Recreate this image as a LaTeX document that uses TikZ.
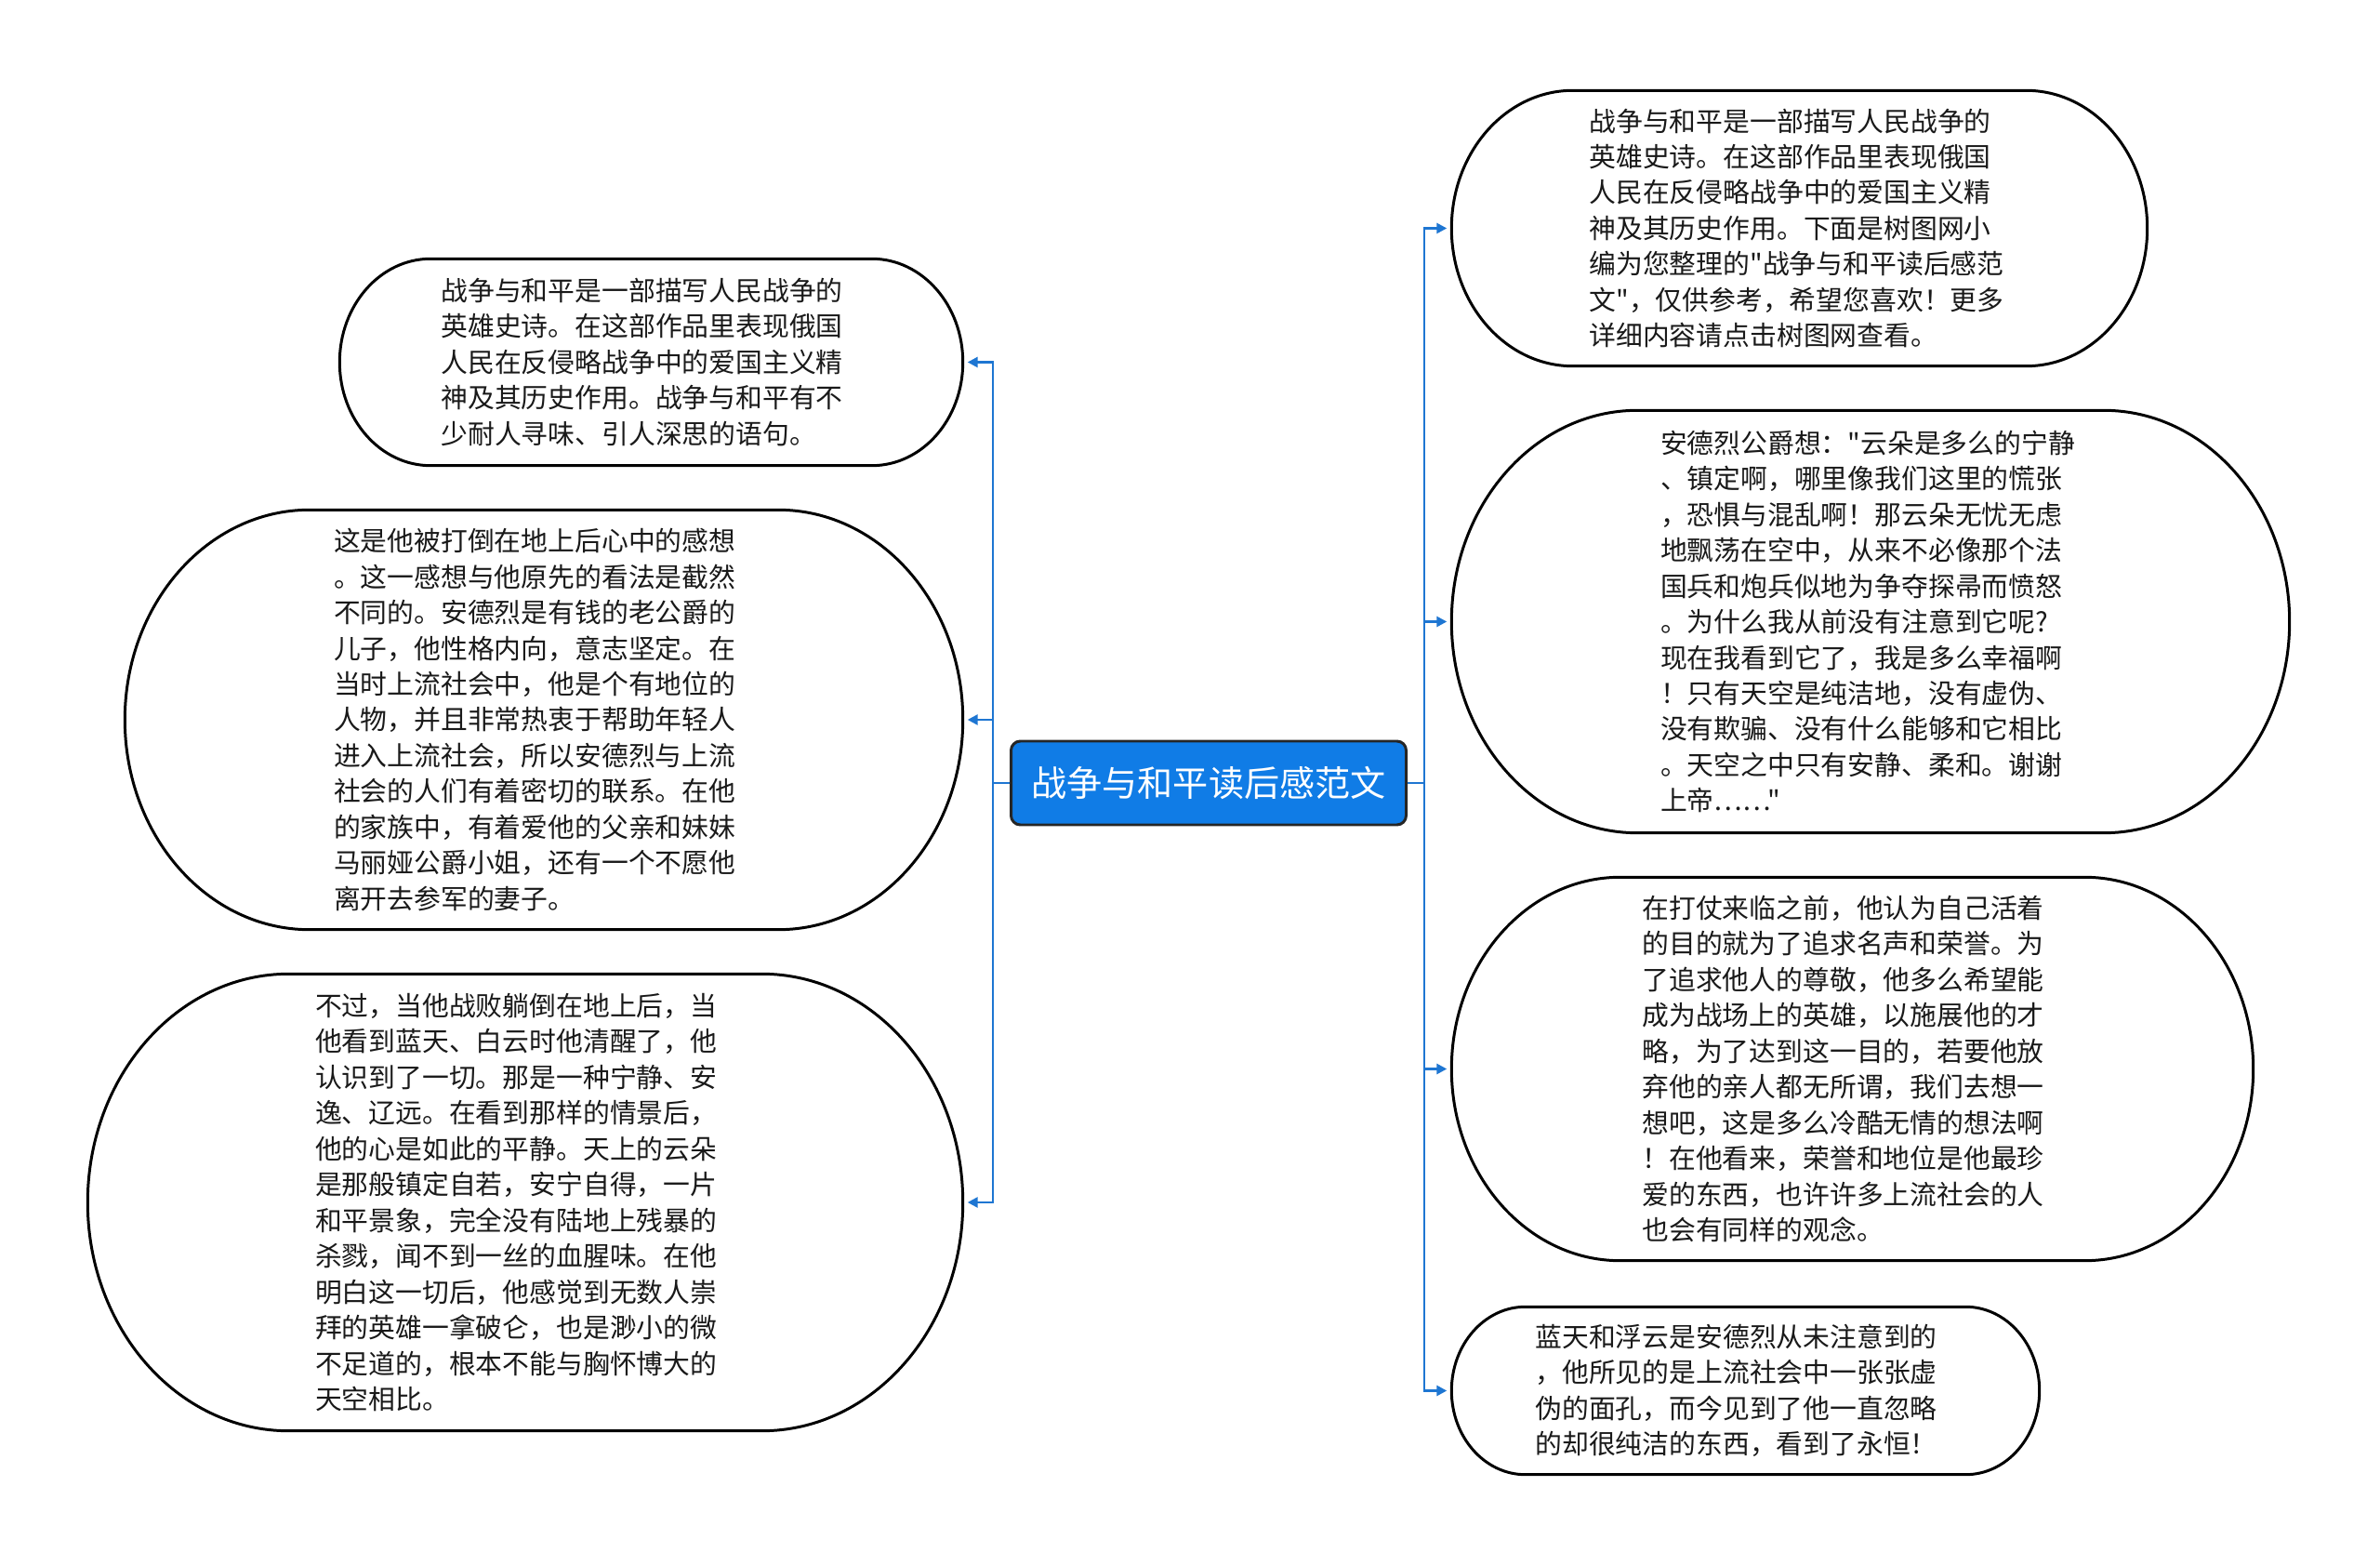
\documentclass[tikz,border=0pt]{standalone}
\usepackage{fontspec}
\newfontfamily\cjk{Noto Sans CJK SC}
\usepackage{xcolor}
\usetikzlibrary{arrows.meta,calc}
\definecolor{hubblue}{RGB}{16,124,230}
\definecolor{linkblue}{RGB}{30,118,210}

\begin{document}
\begin{tikzpicture}[
    hub/.style={rectangle, rounded corners=0.1cm, draw=black!85, line width=0.85pt, fill=hubblue, text=white, minimum width=4.25cm, minimum height=0.9cm, font=\cjk\fontsize{10.85}{13}\selectfont},
    bubble/.style={inner sep=0pt, text width=4.52cm, align=left, text=black!90, font=\cjk\fontsize{8.2}{10.95}\selectfont},
    outline/.style={draw=black, line width=0.85pt},
    arrow/.style={-{Triangle[length=0.11cm,width=0.11cm]}, draw=linkblue, line width=0.75pt, shorten >=0.05cm}
]
\fill[white] (0,0) rectangle (25.6,-16.84);
\useasboundingbox (0,0) rectangle (25.6,-16.84);

\node[hub] (hub) at (13.00,-8.42) {战争与和平读后感范文};

% left side
\node[bubble, minimum width=6.69cm, minimum height=2.21cm] (l1) at (7.005,-3.895) {战争与和平是一部描写人民战争的\\
英雄史诗。在这部作品里表现俄国\\
人民在反侵略战争中的爱国主义精\\
神及其历史作用。战争与和平有不\\
少耐人寻味、引人深思的语句。};
\node[bubble, minimum width=9.00cm, minimum height=4.50cm] (l2) at (5.85,-7.74) {这是他被打倒在地上后心中的感想\\
。这一感想与他原先的看法是截然\\
不同的。安德烈是有钱的老公爵的\\
儿子，他性格内向，意志坚定。在\\
当时上流社会中，他是个有地位的\\
人物，并且非常热衷于帮助年轻人\\
进入上流社会，所以安德烈与上流\\
社会的人们有着密切的联系。在他\\
的家族中，有着爱他的父亲和妹妹\\
马丽娅公爵小姐，还有一个不愿他\\
离开去参军的妻子。};
\node[bubble, minimum width=9.40cm, minimum height=4.90cm] (l3) at (5.65,-12.93) {不过，当他战败躺倒在地上后，当\\
他看到蓝天、白云时他清醒了，他\\
认识到了一切。那是一种宁静、安\\
逸、辽远。在看到那样的情景后，\\
他的心是如此的平静。天上的云朵\\
是那般镇定自若，安宁自得，一片\\
和平景象，完全没有陆地上残暴的\\
杀戮，闻不到一丝的血腥味。在他\\
明白这一切后，他感觉到无数人崇\\
拜的英雄一拿破仑，也是渺小的微\\
不足道的，根本不能与胸怀博大的\\
天空相比。};

% right side
\node[bubble, minimum width=7.47cm, minimum height=2.95cm] (r1) at (19.355,-2.455) {战争与和平是一部描写人民战争的\\
英雄史诗。在这部作品里表现俄国\\
人民在反侵略战争中的爱国主义精\\
神及其历史作用。下面是树图网小\\
编为您整理的"战争与和平读后感范\\
文"，仅供参考，希望您喜欢！更多\\
详细内容请点击树图网查看。};
\node[bubble, minimum width=9.00cm, minimum height=4.53cm] (r2) at (20.12,-6.685) {安德烈公爵想："云朵是多么的宁静\\
、镇定啊，哪里像我们这里的慌张\\
，恐惧与混乱啊！那云朵无忧无虑\\
地飘荡在空中，从来不必像那个法\\
国兵和炮兵似地为争夺探帚而愤怒\\
。为什么我从前没有注意到它呢?\\
现在我看到它了，我是多么幸福啊\\
！只有天空是纯洁地，没有虚伪、\\
没有欺骗、没有什么能够和它相比\\
。天空之中只有安静、柔和。谢谢\\
上帝……"};
\node[bubble, minimum width=8.61cm, minimum height=4.11cm] (r3) at (19.925,-11.495) {在打仗来临之前，他认为自己活着\\
的目的就为了追求名声和荣誉。为\\
了追求他人的尊敬，他多么希望能\\
成为战场上的英雄，以施展他的才\\
略，为了达到这一目的，若要他放\\
弃他的亲人都无所谓，我们去想一\\
想吧，这是多么冷酷无情的想法啊\\
！在他看来，荣誉和地位是他最珍\\
爱的东西，也许许多上流社会的人\\
也会有同样的观念。};
\node[bubble, minimum width=6.31cm, minimum height=1.79cm] (r4) at (18.775,-14.955) {蓝天和浮云是安德烈从未注意到的\\
，他所见的是上流社会中一张张虚\\
伪的面孔，而今见到了他一直忽略\\
的却很纯洁的东西，看到了永恒！};

% bubble outlines
\foreach \b in {l1,l2,l3,r1,r2,r3,r4}
  \draw[outline] let \p1=(\b.north west), \p2=(\b.south east), \n1={0.5*(\y1-\y2)}, \n2={0.88*\n1} in
    (\x1+\n2,\y1) -- (\x2-\n2,\y1) arc[start angle=90, end angle=-90, x radius=\n2, y radius=\n1]
    -- (\x1+\n2,\y2) arc[start angle=270, end angle=90, x radius=\n2, y radius=\n1] -- cycle;

% connectors
\foreach \b in {l1,l2,l3}
  \draw[arrow] (hub.west) -- ++(-0.18,0) |- (\b.east);
\foreach \b in {r1,r2,r3,r4}
  \draw[arrow] (hub.east) -- ++(0.18,0) |- (\b.west);
\end{tikzpicture}
\end{document}
